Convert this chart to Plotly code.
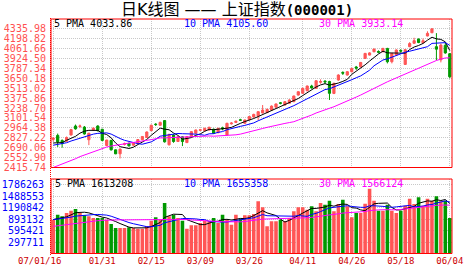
import plotly.graph_objects as go
import pandas as pd

# ---------------- data ----------------
dates = [
    "2007-01-16","2007-01-17","2007-01-18","2007-01-19","2007-01-22","2007-01-23","2007-01-24","2007-01-25",
    "2007-01-26","2007-01-29","2007-01-30","2007-01-31","2007-02-01","2007-02-02","2007-02-05","2007-02-06",
    "2007-02-07","2007-02-08","2007-02-09","2007-02-12","2007-02-13","2007-02-14","2007-02-15","2007-02-16",
    "2007-02-26","2007-02-27","2007-02-28","2007-03-01","2007-03-02","2007-03-05","2007-03-06","2007-03-07",
    "2007-03-08","2007-03-09","2007-03-12","2007-03-13","2007-03-14","2007-03-15","2007-03-16","2007-03-19",
    "2007-03-20","2007-03-21","2007-03-22","2007-03-23","2007-03-26","2007-03-27","2007-03-28","2007-03-29",
    "2007-03-30","2007-04-02","2007-04-03","2007-04-04","2007-04-05","2007-04-06","2007-04-09","2007-04-10",
    "2007-04-11","2007-04-12","2007-04-13","2007-04-16","2007-04-17","2007-04-18","2007-04-19","2007-04-20",
    "2007-04-23","2007-04-24","2007-04-25","2007-04-26","2007-04-27","2007-04-30","2007-05-08","2007-05-09",
    "2007-05-10","2007-05-11","2007-05-14","2007-05-15","2007-05-16","2007-05-17","2007-05-18","2007-05-21",
    "2007-05-22","2007-05-23","2007-05-24","2007-05-25","2007-05-28","2007-05-29","2007-05-30","2007-05-31",
    "2007-06-01","2007-06-04",
]
opens = [2805,2860,2790,2780,2865,2990,2983,2975,2800,2935,2990,2945,2720,2790,2660,2605,
         2735,2750,2725,2748,2800,2830,2925,3015,3000,3065,2730,2865,2775,2840,2760,2842,
         2890,2930,2925,2935,2945,2897,2965,2866,3020,3040,3075,3028,3075,3115,3128,3170,
         3175,3210,3250,3310,3280,3305,3326,3418,3442,3478,3543,3511,3595,3610,3606,3440,
         3626,3731,3695,3741,3806,3810,3925,3971,4017,4021,4017,4063,3879,3972,4036,3842,
         4087,4134,4193,4140,4235,4280,4087,3905,4105,3990]
highs = [2838,2885,2805,2845,2950,3010,3010,2990,2895,2970,3000,2950,2800,2800,2665,2680,
         2760,2760,2760,2810,2850,2915,3010,3030,3050,3068,2885,2875,2850,2850,2850,2920,
         2940,2950,2965,2980,2955,2965,2980,3035,3045,3065,3090,3080,3125,3160,3195,3280,
         3230,3275,3300,3320,3335,3360,3410,3470,3520,3550,3560,3625,3635,3625,3615,3591,
         3706,3746,3751,3796,3821,3876,4001,4011,4061,4036,4071,4071,4001,4051,4051,4054,
         4150,4210,4200,4200,4300,4335.96,4275,4130,4140,4000]
lows = [2775,2700,2690,2770,2860,2940,2960,2870,2725,2925,2915,2780,2710,2650,2600,2541,
        2720,2705,2715,2740,2795,2825,2920,2990,2995,2760,2720,2758,2770,2712,2755,2835,
        2885,2920,2920,2930,2880,2890,2930,2860,3010,3035,3060,3020,3070,3105,3073,3165,
        3170,3205,3245,3290,3275,3300,3320,3410,3435,3470,3510,3505,3575,3575,3350,3431,
        3616,3696,3686,3731,3766,3801,3916,3966,4011,3996,4011,3856,3856,3966,4006,3834,
        4080,4125,4135,4135,4230,4275,3900,3870,3990,3650]
closes = [2821,2770,2745,2830,2940,2950,2990,2880,2890,2960,2925,2790,2795,2660,2605,2670,
          2745,2715,2750,2803,2845,2907,3000,3010,3040,2771,2870,2775,2842,2775,2842,2912,
          2935,2937,2958,2972,2890,2958,2950,3027,3030,3055,3070,3073,3120,3150,3188,3210,
          3220,3265,3295,3305,3326,3350,3405,3464,3511,3543,3515,3616,3605,3600,3442,3579,
          3695,3721,3741,3786,3791,3869,3994,4001,4054,4011,4063,3879,3994,4041,4026,4046,
          4130,4170,4145,4170,4272,4334.92,4053.09,4109.65,4000.74,3670.40]
volumes = [879000,1009000,965000,1050000,1113000,1154000,1050000,991000,965000,921000,921000,921000,
           879000,765000,661000,661000,661000,679000,661000,645000,645000,705000,853000,939000,
           879000,1310000,965000,1009000,921000,853000,645000,731000,731000,791000,853000,835000,
           921000,791000,1009000,879000,749000,1009000,905000,991000,991000,1024000,1354000,1198000,
           705000,835000,835000,879000,835000,921000,1094000,1198000,1198000,1138000,1224000,1094000,
           1310000,1268000,1372000,1094000,1284000,1398000,1224000,939000,1050000,1050000,1294000,1683000,
           1372000,1113000,1113000,1268000,1113000,1050000,1113000,1242000,1424000,1284000,1457000,1242000,
           1424000,1372000,1483000,1354000,1372000,921000]
# trading days before the window (needed by the moving averages)
prior_closes = [2070,2119,2142,2118,2146,2112,2165,2214,2198,2218,2223,2255,2221,2280,2347,2384,
                2448,2445,2545,2576,2646,2715,2641,2707,2757,2773,2720,2668,2795]
prior_volumes = [520000,540000,560000,530000,580000,560000,600000,620000,590000,610000,630000,650000,
                 600000,660000,680000,700000,690000,660000,710000,650000,850000,880000,900000,860000,
                 890000,920000,870000,880000,860000]

price_ticks = ["4335.98","4198.82","4061.66","3924.50","3787.34","3650.18","3513.02","3375.86",
               "3238.70","3101.54","2964.38","2827.22","2690.06","2552.90","2415.74"]
volume_ticks = ["1786263","1488553","1190842","893132","595421","297711"]
x_tick_dates = ["2007-01-16","2007-01-31","2007-02-15","2007-03-09","2007-03-26",
                "2007-04-11","2007-04-26","2007-05-18","2007-06-04"]
x_tick_text = ["07/01/16","01/31","02/15","03/09","03/26","04/11","04/26","05/18","06/04"]
title_main = "日K线图 —— 上证指数"
title_code = "(000001)"
price_pma_text = ["5 PMA 4033.86", "10 PMA 4105.60", "30 PMA 3933.14"]
volume_pma_text = ["5 PMA 1613208", "10 PMA 1655358", "30 PMA 1566124"]

# ---------------- styling ----------------
W, H = 472, 273
L, R = 51, 452
RED = "#ff5555"
GREEN = "#009900"
FRAME = "#ff0000"
GRID = "#c8c8c8"
MA_COLORS = ["#000000", "#0000ff", "#ff00ff"]
MONO = "DejaVu Sans Mono"

def py(p):
    return 1 - p / H

def px(p):
    return (p - L) / (R - L)

idx = list(range(len(dates)))
tickvals = [dates.index(d) for d in x_tick_dates]
# first label sits left of its bar in the reference: pad it on the right
tick_text_shown = [x_tick_text[0] + "\u00a0" * 5] + x_tick_text[1:]

c_all = pd.Series(prior_closes + closes, dtype=float)
v_all = pd.Series(prior_volumes + volumes, dtype=float)
n0 = len(prior_closes)
price_ma = [c_all.rolling(n).mean().iloc[n0:].tolist() for n in (5, 10, 30)]
vol_ma = [v_all.rolling(n).mean().iloc[n0:].tolist() for n in (5, 10, 30)]
bar_colors = [RED if c >= o else GREEN for o, c in zip(opens, closes)]

fig = go.Figure()
fig.add_trace(go.Candlestick(
    x=idx, open=opens, high=highs, low=lows, close=closes,
    increasing=dict(line=dict(color=RED, width=1), fillcolor=RED),
    decreasing=dict(line=dict(color=GREEN, width=1), fillcolor=GREEN),
    whiskerwidth=0, xaxis="x", yaxis="y", hoverinfo="skip"))
for ma, col in zip(price_ma, MA_COLORS):
    fig.add_trace(go.Scatter(x=idx, y=ma, mode="lines", line=dict(color=col, width=1),
                             xaxis="x", yaxis="y", hoverinfo="skip"))
fig.add_trace(go.Bar(x=idx, y=volumes, marker=dict(color=bar_colors, line=dict(width=0)),
                     xaxis="x2", yaxis="y2", hoverinfo="skip"))
for ma, col in zip(vol_ma, MA_COLORS):
    fig.add_trace(go.Scatter(x=idx, y=ma, mode="lines", line=dict(color=col, width=1),
                             xaxis="x2", yaxis="y2", hoverinfo="skip"))

xcommon = dict(range=[-0.5, len(dates) - 0.5], tickvals=tickvals, showgrid=True,
               gridcolor=GRID, griddash="1px,1px", gridwidth=1, zeroline=False,
               showline=False, automargin=False)
fig.update_layout(
    template="none",
    width=W, height=H,
    margin=dict(l=L, r=W - R, t=0, b=0),
    paper_bgcolor="white", plot_bgcolor="white",
    showlegend=False, bargap=0.2,
    xaxis=dict(**xcommon, domain=[0, 1], anchor="y", showticklabels=False,
               rangeslider=dict(visible=False)),
    xaxis2=dict(**xcommon, domain=[0, 1], anchor="y2", matches="x",
                ticktext=tick_text_shown, showticklabels=True, ticks="", tickangle=0,
                tickfont=dict(family=MONO, size=9, color="#cc0000")),
    yaxis=dict(domain=[py(167.5), py(19)], range=[2415.74, 4470.2],
               tickvals=[float(t) for t in price_ticks], ticktext=price_ticks,
               ticks="outside", ticklen=2, tickcolor="rgba(0,0,0,0)",
               tickfont=dict(family=MONO, size=10, color="#ff5050"),
               showgrid=True, gridcolor=GRID, griddash="1px,1px", gridwidth=1,
               zeroline=False, showline=False, automargin=False),
    yaxis2=dict(domain=[py(253.5), py(179)], range=[0, 1934000],
                tickvals=[float(t) for t in volume_ticks], ticktext=volume_ticks,
                ticks="outside", ticklen=4, tickcolor="rgba(0,0,0,0)",
                tickfont=dict(family=MONO, size=10, color="#0000ff"),
                showgrid=True, gridcolor=GRID, griddash="1px,1px", gridwidth=1,
                zeroline=False, showline=False, automargin=False),
)

shapes = [
    dict(type="rect", xref="paper", yref="paper", x0=0, x1=1, y0=py(167.5), y1=py(19),
         line=dict(color=FRAME, width=1), layer="above"),
    dict(type="rect", xref="paper", yref="paper", x0=0, x1=1, y0=py(253.5), y1=py(179),
         line=dict(color=FRAME, width=1), layer="above"),
    dict(type="line", xref="paper", yref="paper", x0=px(50.5), x1=px(50.5), y0=py(255), y1=py(18),
         line=dict(color=FRAME, width=1, dash="1px,1px"), layer="above"),
]
fig.update_layout(shapes=shapes)

title_html = (title_main +
              "<span style=\"font-family:'DejaVu Sans Mono';font-weight:bold;font-size:14px\">"
              + title_code + "</span>")
ann = [dict(text=title_html, x=px(236.5), y=py(9.5), xref="paper", yref="paper",
            showarrow=False, xanchor="center", yanchor="middle", borderpad=0,
            font=dict(family="DejaVu Sans, Noto Sans CJK SC", size=16, color="#000000"))]
for t, xp, col in zip(price_pma_text, [53, 183, 318], MA_COLORS):
    ann.append(dict(text=t, x=px(xp), y=py(23.8), xref="paper", yref="paper", showarrow=False,
                    xanchor="left", yanchor="middle", borderpad=0,
                    font=dict(family=MONO, size=10, color=col)))
for t, xp, col in zip(volume_pma_text, [54, 183, 318], MA_COLORS):
    ann.append(dict(text=t, x=px(xp), y=py(183.5), xref="paper", yref="paper", showarrow=False,
                    xanchor="left", yanchor="middle", borderpad=0,
                    font=dict(family=MONO, size=10, color=col)))
fig.update_layout(annotations=ann)

fig.write_html("out.html")
